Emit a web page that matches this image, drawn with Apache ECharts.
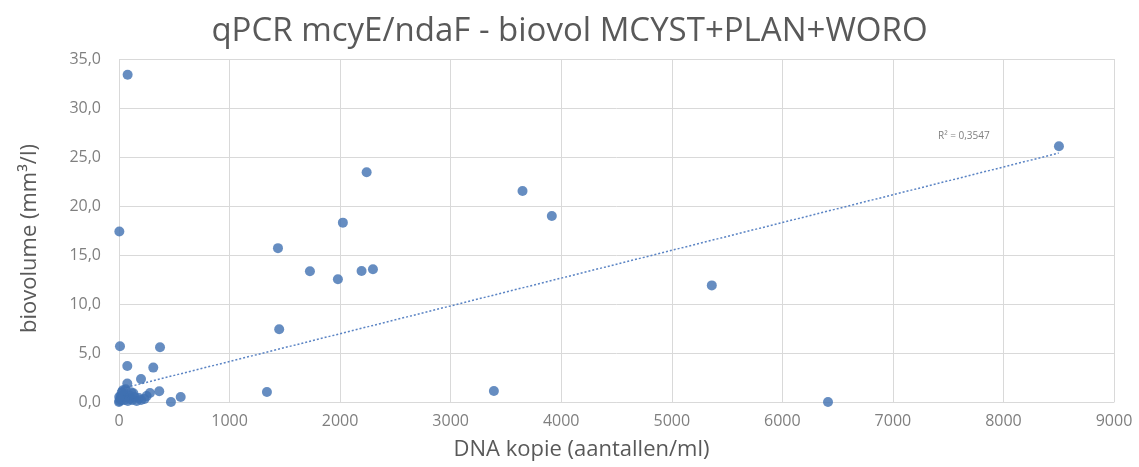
<!DOCTYPE html>
<html><head><meta charset="utf-8">
<script src="https://cdn.jsdelivr.net/npm/echarts@6/dist/echarts.min.js"></script>
<style>html,body{margin:0;padding:0;background:#fff}#c{width:1139px;height:467px}</style>
</head><body><div id="c"></div>
<script>
const title = 'qPCR mcyE/ndaF - biovol MCYST+PLAN+WORO';
const xName = 'DNA kopie (aantallen/ml)';
const yName = 'biovolume (mm\u00b3/l)';
const r2Label = 'R\u00b2 = 0,3547';
// DNA copies (x) and biovolume (y)
const dnaX = [78, 3, 9, 371, 75, 310, 199, 75, 280, 364, 470, 558, 1338, 1449, 1438, 1727, 1980, 2194, 2297, 2025, 2240, 3650, 3915, 3391, 5362, 6413, 8502,
  0, 5, 10, 15, 20, 25, 30, 40, 50, 60, 70, 80, 90, 100, 110, 120, 140, 160, 180, 200, 230, 250, 2, 35, 130];
const bioY = [33.4, 17.4, 5.68, 5.58, 3.67, 3.51, 2.35, 1.88, 0.92, 1.09, 0.0, 0.51, 1.02, 7.42, 15.7, 13.34, 12.52, 13.37, 13.54, 18.3, 23.44, 21.53, 18.98, 1.12, 11.9, 0.0, 26.09,
  0.0, 0.1, 0.3, 0.6, 0.2, 1.0, 0.4, 0.8, 0.2, 1.3, 0.5, 0.1, 0.7, 0.3, 1.0, 0.2, 0.5, 0.1, 0.4, 0.2, 0.3, 0.6, 0.5, 1.2, 0.9];
const trendX = [0, 8500];
const trendY = [1.30, 25.4];
const xTicks = [0, 1000, 2000, 3000, 4000, 5000, 6000, 7000, 8000, 9000];
const yTicks = [0, 5, 10, 15, 20, 25, 30, 35];

const chart = echarts.init(document.getElementById('c'));
const gridColor = '#d9d9d9';
const labelColor = '#7f7f7f';
chart.setOption({
  animation: false,
  title: { text: title, left: 'center', top: 10,
    textStyle: { fontFamily: 'Open Sans', fontSize: 33, fontWeight: 'normal', color: '#595959' } },
  grid: { left: 119, right: 25, top: 59, bottom: 65 },
  xAxis: {
    type: 'value', min: xTicks[0], max: xTicks[xTicks.length - 1], interval: 1000,
    name: xName, nameLocation: 'middle', nameGap: 37,
    nameTextStyle: { fontFamily: 'Open Sans', fontSize: 22, color: '#595959', padding: [0, 70, 0, 0] },
    axisLine: { show: true, lineStyle: { color: gridColor } },
    axisTick: { show: false },
    axisLabel: { color: labelColor, fontFamily: 'Open Sans', fontSize: 16, margin: 11,
      formatter: v => String(v) },
    splitLine: { show: true, lineStyle: { color: gridColor } }
  },
  yAxis: {
    type: 'value', min: yTicks[0], max: yTicks[yTicks.length - 1], interval: 5,
    name: yName, nameLocation: 'middle', nameGap: 78, nameRotate: 90,
    nameTextStyle: { fontFamily: 'Open Sans', fontSize: 22, color: '#595959', padding: [0, 16, 0, 0] },
    axisLine: { show: false },
    axisTick: { show: false },
    axisLabel: { color: labelColor, fontFamily: 'Open Sans', fontSize: 16, margin: 18,
      formatter: v => v.toFixed(1).replace('.', ',') },
    splitLine: { show: true, lineStyle: { color: gridColor } }
  },
  series: [
    { type: 'line', data: trendX.map((x, i) => [x, trendY[i]]), symbol: 'none', z: 1,
      lineStyle: { color: '#5b84c4', width: 1.5, type: [2, 2] } },
    { type: 'scatter', data: dnaX.map((x, i) => [x, bioY[i]]), symbolSize: 10, z: 2,
      itemStyle: { color: '#4070b2' } }
  ],
  graphic: [{ type: 'text', left: 938, top: 131,
    style: { text: r2Label, fontFamily: 'Open Sans', fontSize: 10, fill: '#7f7f7f' } }]
});
</script></body></html>
